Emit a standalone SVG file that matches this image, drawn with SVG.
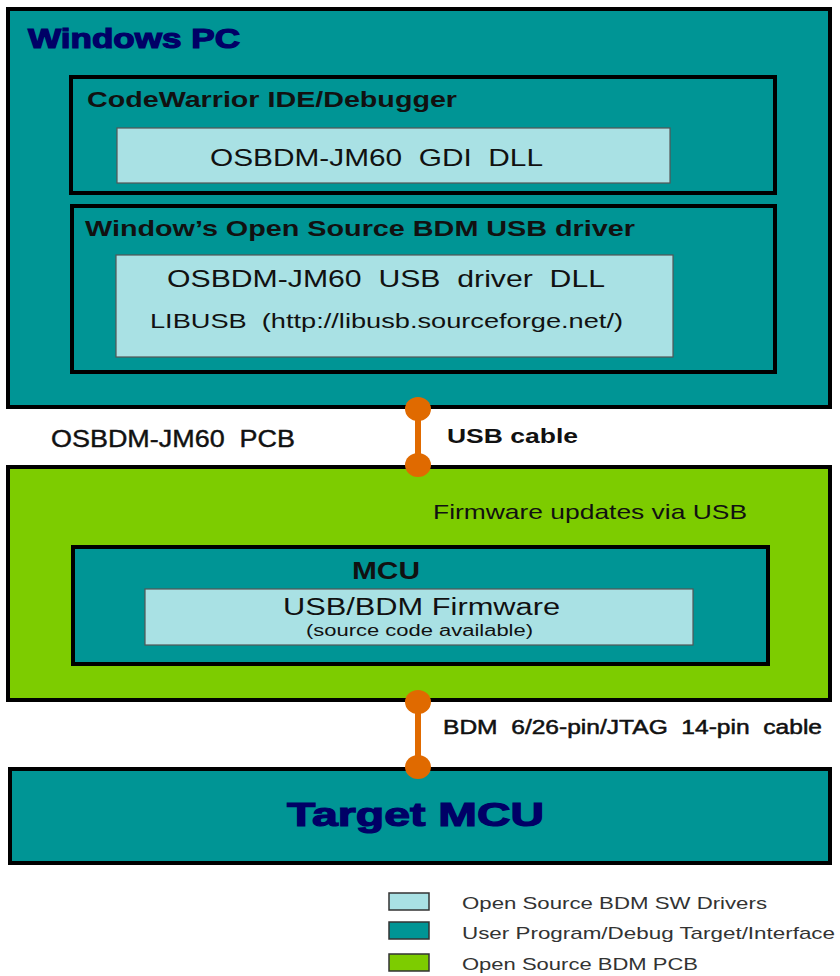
<svg xmlns="http://www.w3.org/2000/svg" width="840" height="976" viewBox="0 0 840 976">
<style>
text{font-family:"Liberation Sans",Arial,sans-serif;white-space:pre}
.teal{fill:#009595;stroke:#000;stroke-width:4}
.green{fill:#7dcc00;stroke:#000;stroke-width:4}
.light{fill:#a9e1e4;stroke:#555;stroke-width:1.2}
.title{font-weight:bold;fill:#000066;stroke:#000066;stroke-width:1.2}
.hdr{font-weight:bold;fill:#111}
.reg{fill:#111}
.leg{fill:#333;font-size:17px}
.cable{stroke:#e06a00;stroke-width:6;fill:none}
.dot{fill:#e06a00}
</style>
<rect width="840" height="976" fill="#fff"/>
<g id="windows-pc">
<rect class="teal" x="8" y="9" width="822" height="398"/>
<text class="title" x="28" y="48" font-size="27" textLength="212" lengthAdjust="spacingAndGlyphs">Windows PC</text>
</g>
<g id="codewarrior">
<rect class="teal" x="71" y="77" width="704" height="116"/>
<text class="hdr" x="87" y="107" font-size="22" textLength="370" lengthAdjust="spacingAndGlyphs">CodeWarrior IDE/Debugger</text>
</g>
<g id="gdi-dll">
<rect class="light" x="117" y="128" width="553" height="55"/>
<text class="reg" x="210" y="166" font-size="24" textLength="333" lengthAdjust="spacingAndGlyphs">OSBDM-JM60  GDI  DLL</text>
</g>
<g id="usb-driver">
<rect class="teal" x="72" y="206" width="703" height="166"/>
<text class="hdr" x="85" y="236" font-size="22" textLength="550" lengthAdjust="spacingAndGlyphs">Window’s Open Source BDM USB driver</text>
</g>
<g id="usb-driver-dll">
<rect class="light" x="116" y="255" width="557" height="102"/>
<text class="reg" x="167" y="287" font-size="24" textLength="438" lengthAdjust="spacingAndGlyphs">OSBDM-JM60  USB  driver  DLL</text>
<text class="reg" x="150" y="328" font-size="21" textLength="473" lengthAdjust="spacingAndGlyphs">LIBUSB  (http://libusb.sourceforge.net/)</text>
</g>
<g id="pcb">
<rect class="green" x="8" y="467" width="822" height="233"/>
<text class="reg" x="433" y="519" font-size="21" fill="#1a2a00" textLength="314" lengthAdjust="spacingAndGlyphs">Firmware updates via USB</text>
</g>
<text class="reg" x="51" y="447" font-size="23" stroke="#111" stroke-width="0.4" textLength="244" lengthAdjust="spacingAndGlyphs">OSBDM-JM60  PCB</text>
<g id="mcu">
<rect class="teal" x="73" y="547" width="695" height="117"/>
<text class="hdr" x="352" y="579" font-size="24" textLength="68" lengthAdjust="spacingAndGlyphs">MCU</text>
</g>
<g id="firmware">
<rect class="light" x="145" y="589" width="548" height="56"/>
<text class="reg" x="283" y="615" font-size="23" textLength="277" lengthAdjust="spacingAndGlyphs">USB/BDM Firmware</text>
<text class="reg" x="306" y="636" font-size="16" textLength="227" lengthAdjust="spacingAndGlyphs">(source code available)</text>
</g>
<g id="target-mcu">
<rect class="teal" x="10" y="769" width="820" height="94"/>
<text class="title" x="287" y="826" font-size="33" textLength="257" lengthAdjust="spacingAndGlyphs">Target MCU</text>
</g>
<g id="connectors">
<line class="cable" x1="418" y1="408" x2="418" y2="465"/>
<ellipse class="dot" cx="418" cy="409" rx="13" ry="12"/>
<ellipse class="dot" cx="418" cy="465" rx="13" ry="12"/>
<text class="hdr" x="447" y="443" font-size="20" textLength="131" lengthAdjust="spacingAndGlyphs">USB cable</text>
<line class="cable" x1="418" y1="701" x2="418" y2="767"/>
<ellipse class="dot" cx="418" cy="702" rx="13" ry="12"/>
<ellipse class="dot" cx="418" cy="767" rx="13" ry="12"/>
<text class="reg" x="443" y="734" font-size="20" stroke="#111" stroke-width="0.5" textLength="379" lengthAdjust="spacingAndGlyphs">BDM  6/26-pin/JTAG  14-pin  cable</text>
</g>
<g id="legend">
<rect x="389" y="893" width="40" height="17" fill="#a9e1e4" stroke="#333" stroke-width="1.5"/>
<text class="leg" x="462" y="909" textLength="305" lengthAdjust="spacingAndGlyphs">Open Source BDM SW Drivers</text>
<rect x="389" y="922" width="40" height="17" fill="#009595" stroke="#333" stroke-width="1.5"/>
<text class="leg" x="462" y="939" textLength="373" lengthAdjust="spacingAndGlyphs">User Program/Debug Target/Interface</text>
<rect x="389" y="954" width="40" height="17" fill="#7dcc00" stroke="#333" stroke-width="1.5"/>
<text class="leg" x="462" y="970" textLength="236" lengthAdjust="spacingAndGlyphs">Open Source BDM PCB</text>
</g>
</svg>
